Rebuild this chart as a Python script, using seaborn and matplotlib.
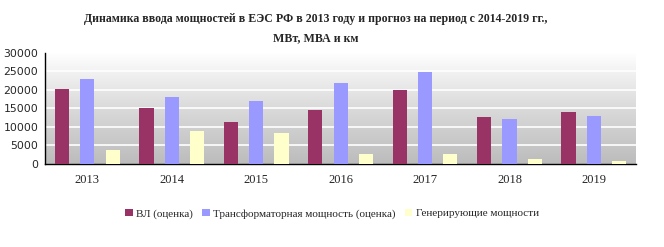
import numpy as np
import pandas as pd
import matplotlib
matplotlib.use("Agg")
import matplotlib.pyplot as plt
import seaborn as sns
from matplotlib.patches import Patch
from matplotlib.colors import LinearSegmentedColormap

years = ["2013", "2014", "2015", "2016", "2017", "2018", "2019"]
series_names = ["ВЛ (оценка)", "Трансформаторная мощность (оценка)", "Генерирующие мощности"]
vl = [20200, 15100, 11300, 14600, 19900, 12700, 14000]
transf = [22900, 18100, 17000, 21700, 24800, 12100, 12900]
gen = [3900, 9000, 8400, 2800, 2800, 1400, 900]
colors = ["#993366", "#9999FF", "#FFFFCC"]
title = "Динамика ввода мощностей в ЕЭС РФ в 2013 году и прогноз на период с 2014-2019 гг.,\nМВт, МВА и км"

df = pd.DataFrame({
    "year": years * 3,
    "series": [series_names[0]] * 7 + [series_names[1]] * 7 + [series_names[2]] * 7,
    "value": vl + transf + gen,
})

sns.set_style("white")
plt.rcParams["font.family"] = ["Liberation Serif", "DejaVu Serif"]

fig = plt.figure(figsize=(6.64, 2.47), dpi=100)
ax = fig.add_axes([0.068, 0.336, 0.890, 0.451])

# gradient background
grad = np.linspace(0, 1, 256).reshape(-1, 1)
cmap = LinearSegmentedColormap.from_list("g", ["#bcbcbc", "#dadada", "#ffffff"])
ax.imshow(grad, aspect="auto", cmap=cmap, origin="lower",
          extent=[-0.5, 6.5, 0, 30000], zorder=0)

sns.barplot(data=df, x="year", y="value", hue="series", hue_order=series_names,
            palette=colors, width=0.9, gap=0.44, saturation=1, ax=ax,
            legend=False, zorder=3, edgecolor="none")

ax.set_xlim(-0.5, 6.5)
ax.set_ylim(0, 30000)
ax.set_yticks(range(0, 30001, 5000))
for y in range(5000, 30001, 5000):
    ax.axhline(y, color="white", linewidth=1.2, zorder=1)

ax.set_xlabel("")
ax.set_ylabel("")
for s in ["top", "right"]:
    ax.spines[s].set_visible(False)
ax.spines["left"].set_color("black")
ax.spines["bottom"].set_color("black")
ax.spines["left"].set_linewidth(1)
ax.spines["bottom"].set_linewidth(1)

ax.set_xticks(range(7))
ax.set_xticklabels(years, fontsize=9)
ax.tick_params(axis="x", length=0, pad=7)
ax.set_xticks(np.arange(-0.5, 7, 1), minor=True)
ax.tick_params(axis="x", which="minor", length=4, direction="out", color="black", width=1)
ax.tick_params(axis="y", length=3, direction="out", color="black", width=1, pad=2)
for lab in ax.get_yticklabels():
    lab.set_family(["DejaVu Sans"])
    lab.set_fontsize(7.8)

fig.text(0.476, 0.948, title, ha="center", va="top", fontsize=8.6,
         fontweight="bold", linespacing=1.8)

handles = [Patch(facecolor=c, edgecolor="none") for c in colors]
fig.legend(handles, series_names, loc="center", bbox_to_anchor=(0.5, 0.135),
           ncol=3, frameon=False, fontsize=8, handlelength=0.7, handleheight=0.7,
           handletextpad=0.3, columnspacing=0.8)

fig.savefig("out.png", dpi=100)
